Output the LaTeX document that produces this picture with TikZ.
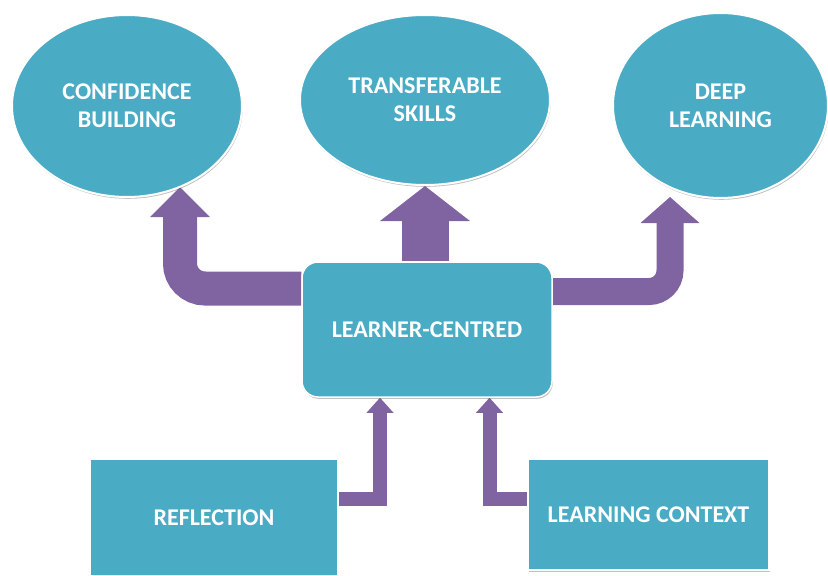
\documentclass[tikz,border=0pt]{standalone}
\usepackage{fontspec}
\setmainfont{Carlito}
\usetikzlibrary{shapes.geometric,arrows.meta,shadows,backgrounds}
\definecolor{aquaB}{HTML}{4AABC5}
\definecolor{purp}{HTML}{8064A2}
\begin{document}
\begin{tikzpicture}[x=1pt,y=-1pt,
  lbl/.style={text=white, font=\bfseries\fontsize{24}{28}\selectfont, align=center, inner sep=0pt},
  shad/.style={drop shadow={shadow xshift=0.8pt, shadow yshift=-1.8pt, opacity=0.35, fill=black!70}},
  bub/.style={lbl, ellipse, fill=aquaB, draw=white, line width=2pt, shad},
  box/.style={lbl, rectangle, fill=aquaB, draw=white, line width=1.5pt, shad},
  bigarrow/.style={draw=purp, line width=#1},
]
\useasboundingbox (0,0) rectangle (828,576);

\node[bub, minimum width=230pt, minimum height=182pt] (cb) at (127,106) {CONFIDENCE\\BUILDING};
\node[bub, minimum width=250pt, minimum height=170pt] (ts) at (425,100) {TRANSFERABLE\\SKILLS};
\node[bub, minimum width=215pt, minimum height=185pt] (dl) at (720.5,105.5) {DEEP\\LEARNING};
\node[box, rounded corners=16pt, minimum width=250pt, minimum height=135pt] (lc) at (427,329.5) {LEARNER-CENTRED};
\node[box, minimum width=248pt, minimum height=117pt] (rf) at (214,517.5) {REFLECTION};
\node[box, minimum width=241pt, minimum height=111pt] (lx) at (648.5,514.5) {LEARNING CONTEXT};

\coordinate (tipL) at (180,187);
\coordinate (tipM) at (ts.south);
\coordinate (tipR) at (670,197);
\coordinate (tipA) at (lc.south -| 380,0);
\coordinate (tipB) at (lc.south -| 489.5,0);

\begin{scope}[on background layer]
\draw[bigarrow=34pt, rounded corners=25pt, -{Triangle[width=60pt,length=30pt,line width=0pt]}]
  (lc.west |- 0,288.5) -| (tipL);
\draw[bigarrow=47pt, -{Triangle[width=90pt,length=35pt,line width=0pt]}]
  (lc.north -| tipM) -- (tipM);
\draw[bigarrow=27pt, rounded corners=21pt, -{Triangle[width=59pt,length=26pt,line width=0pt]}]
  (lc.east |- 0,291.5) -| (tipR);
\draw[bigarrow=14pt, -{Triangle[width=27pt,length=15pt,line width=0pt]}]
  (rf.east |- 0,498.5) -| (tipA);
\draw[bigarrow=14pt, -{Triangle[width=27pt,length=15pt,line width=0pt]}]
  (lx.west |- 0,498.5) -| (tipB);
\end{scope}
\end{tikzpicture}
\end{document}
